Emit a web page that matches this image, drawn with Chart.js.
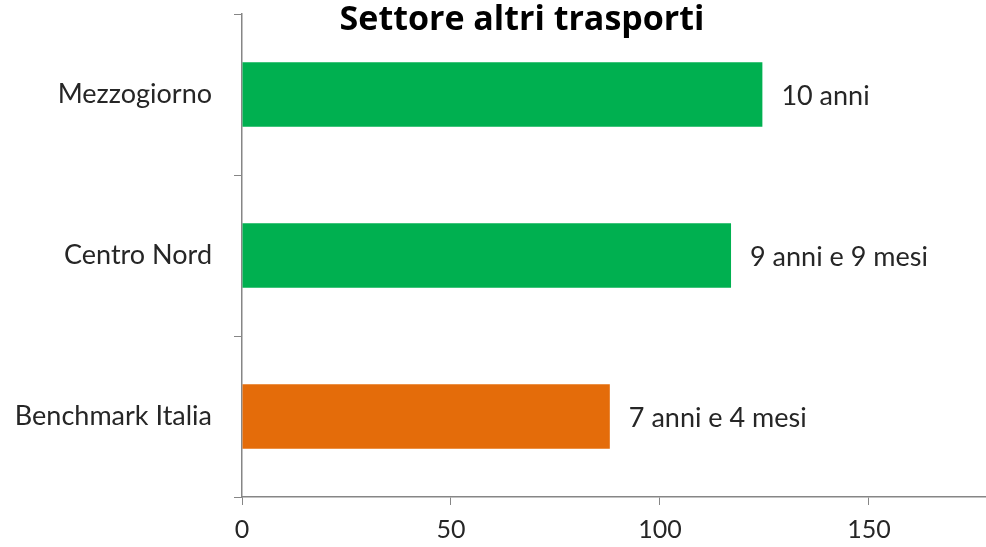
<!DOCTYPE html>
<html>
<head>
<meta charset="utf-8">
<script src="https://cdn.jsdelivr.net/npm/chart.js@4"></script>
<style>
  html, body { margin: 0; padding: 0; background: #fff; }
  #wrap { width: 986px; height: 547px; }
</style>
</head>
<body>
<div id="wrap"><canvas id="myChart" width="986" height="547"></canvas></div>
<script>
let chartTitle = 'Settore altri trasporti';
let categories = ['Mezzogiorno', 'Centro Nord', 'Benchmark Italia'];
let values = [124.5, 117, 88];
let valueLabels = ['10 anni', '9 anni e 9 mesi', '7 anni e 4 mesi'];
let barColors = ['#00B050', '#00B050', '#E46C0A'];
let xTicks = [0, 50, 100, 150];

let fontFamily = 'Lato, "Open Sans", sans-serif';

// title sits inside the plot area, like the original
let titlePlugin = {
  id: 'titleInside',
  afterDraw(chart) {
    let c = chart.ctx;
    c.save();
    c.font = 'bold 34px "Open Sans", sans-serif';
    c.fillStyle = '#000';
    c.textAlign = 'center';
    c.textBaseline = 'middle';
    c.fillText(chartTitle, 522, 20);
    c.restore();
  },
};

// value labels to the right of each bar
let valueLabelPlugin = {
  id: 'valueLabels',
  afterDatasetsDraw(chart) {
    let c = chart.ctx;
    let meta = chart.getDatasetMeta(0);
    c.save();
    c.font = '27px ' + fontFamily;
    c.fillStyle = '#262626';
    c.textAlign = 'left';
    c.textBaseline = 'middle';
    meta.data.forEach((bar, i) => {
      c.fillText(valueLabels[i], bar.x + 19, bar.y + 2);
    });
    c.restore();
  },
};

let ctx = document.getElementById('myChart').getContext('2d');
let myChart = new Chart(ctx, {
  type: 'bar',
  data: {
    labels: categories,
    datasets: [
      {
        data: values,
        backgroundColor: barColors,
        borderWidth: 0,
        barPercentage: 0.4,
        categoryPercentage: 1,
      },
    ],
  },
  options: {
    indexAxis: 'y',
    responsive: false,
    animation: false,
    layout: { padding: { top: 14, left: 0, right: 0, bottom: 0 } },
    plugins: {
      legend: { display: false },
      tooltip: { enabled: false },
      title: { display: false },
    },
    scales: {
      x: {
        min: 0,
        max: 178,
        afterBuildTicks(scale) {
          scale.ticks = xTicks.map(v => ({ value: v }));
        },
        afterFit(scale) {
          scale.height = 50;
          scale.paddingLeft = 0;
          scale.paddingRight = 0;
        },
        grid: {
          drawOnChartArea: false,
          drawTicks: true,
          tickLength: 8,
          color: '#868686',
        },
        border: { color: '#868686', width: 1.5 },
        ticks: {
          padding: 10,
          color: '#262626',
          font: { family: fontFamily, size: 25 },
          maxRotation: 0,
        },
      },
      y: {
        afterFit(scale) {
          scale.width = 242;
          scale.paddingTop = 0;
          scale.paddingBottom = 0;
        },
        grid: {
          drawOnChartArea: false,
          drawTicks: true,
          tickLength: 8,
          color: '#868686',
          offset: true,
        },
        border: { color: '#868686', width: 1.5 },
        ticks: {
          padding: 22,
          color: '#262626',
          font: { family: fontFamily, size: 27 },
        },
      },
    },
  },
  plugins: [titlePlugin, valueLabelPlugin],
});
</script>
</body>
</html>
